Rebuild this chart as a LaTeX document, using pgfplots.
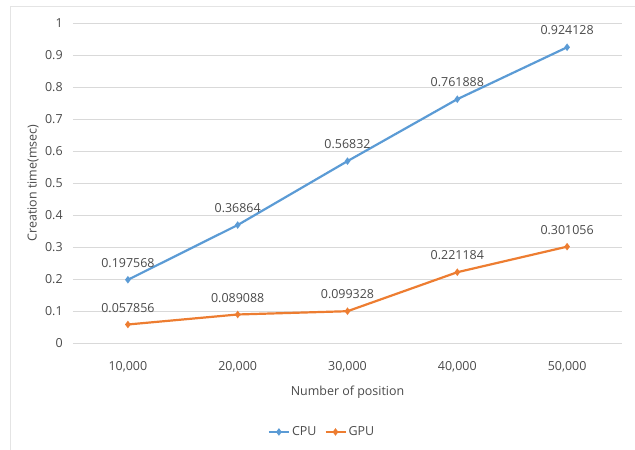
\documentclass[border=0pt]{standalone}
\usepackage{pgfplots}
\pgfplotsset{compat=1.18}
\usepackage{fontspec}
\setmainfont{Open Sans}
\definecolor{cpublue}{HTML}{5B9BD5}
\definecolor{gpuorange}{HTML}{ED7D31}
\definecolor{txtgray}{HTML}{4A4A4A}
\definecolor{gridgray}{HTML}{D9D9D9}
\definecolor{framegray}{HTML}{E4E4E4}
\newcommand{\chartfont}{\fontsize{12.5}{14.5}\selectfont}

\begin{document}
\chartfont
\begin{tikzpicture}[x=1bp,y=1bp]
% chart area and its thin outer frame
\useasboundingbox (-73,-107) rectangle (562,343);
\draw[framegray, line width=1bp] (-62,-108) -- (-62,336) -- (563,336);
\begin{axis}[
  at={(0,0)}, anchor=south west,
  scale only axis, width=549bp, height=320bp,
  xmin=-0.5, xmax=4.5, ymin=0, ymax=1,
  xtick={0,1,2,3,4},
  xticklabels={10{,}000,20{,}000,30{,}000,40{,}000,50{,}000},
  ytick={0,0.1,0.2,0.3,0.4,0.5,0.6,0.7,0.8,0.9,1},
  yticklabels={0,0.1,0.2,0.3,0.4,0.5,0.6,0.7,0.8,0.9,1},
  axis line style={draw=none},
  tick style={draw=none},
  ymajorgrids, grid style={gridgray, line width=0.8bp},
  /pgf/number format/assume math mode=true,
  ticklabel style={font=\chartfont, text=txtgray},
  yticklabel style={xshift=-6bp},
  xticklabel style={yshift=-14bp},
  xlabel={Number of position},
  ylabel={Creation time(msec)},
  label style={font=\chartfont, text=txtgray},
  xlabel style={anchor=center, at={(axis description cs:0.5,-0.153)}},
  ylabel style={anchor=center, at={(axis description cs:-0.073,0.5)}},
  legend style={at={(axis description cs:0.4536,-0.278)}, anchor=center,
    draw=none, fill=none, legend columns=2,
    font=\chartfont, text=txtgray,
    /tikz/every even column/.append style={column sep=6bp}},
  legend image code/.code={%
    \draw[#1, mark repeat=2, mark phase=2]
      plot coordinates {(0bp,0bp)(10bp,0bp)(20bp,0bp)};},
  nodes near coords,
  every node near coord/.append style={
    font=\chartfont, text=txtgray, yshift=7bp,
    /pgf/number format/fixed, /pgf/number format/precision=6},
]
\addplot[cpublue, line width=2.2bp, mark=diamond*, mark size=2bp]
  coordinates {(0,0.197568) (1,0.36864) (2,0.56832) (3,0.761888) (4,0.924128)};
\addlegendentry{CPU}
\addplot[gpuorange, line width=2.2bp, mark=diamond*, mark size=2bp]
  coordinates {(0,0.057856) (1,0.089088) (2,0.099328) (3,0.221184) (4,0.301056)};
\addlegendentry{GPU}
\end{axis}
\end{tikzpicture}
\end{document}
